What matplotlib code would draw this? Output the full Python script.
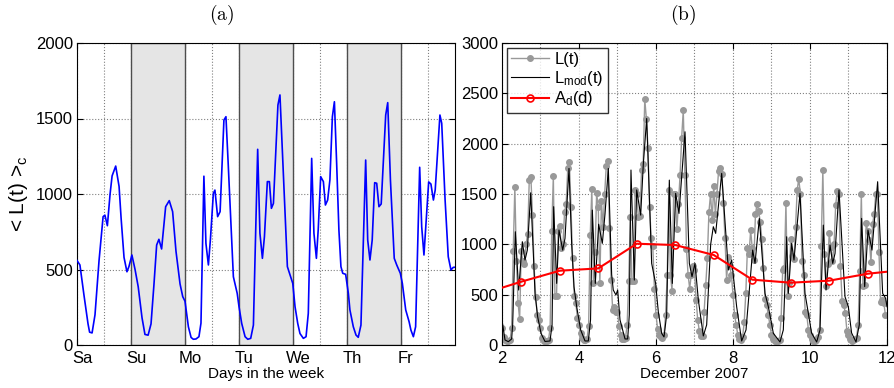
import matplotlib
matplotlib.use("Agg")
import matplotlib.pyplot as plt
import matplotlib.transforms as mtransforms
import numpy as np

plt.rcParams['font.family'] = ['Liberation Sans', 'DejaVu Sans']
plt.rcParams['mathtext.fontset'] = 'cm'
plt.rcParams['mathtext.default'] = 'regular'

# ---- panel (a): average weekly profile, vertices (hour, load)
week_hours = [0, 1.3, 3.1, 4.9, 5.6, 6.7, 8, 9.8, 11.6, 12.4, 13.5, 14.7, 15.6, 17.2, 18.7, 19.6, 20.9, 22.2, 23.1, 24.4,
              25.8, 27.2, 28.9, 30.2, 31.6, 32.9, 34.2, 35.4, 36.4, 37.6, 39.4, 41, 42.5, 44, 45.8, 47, 48,
              49.5, 50.7, 51.7, 52.9, 54.2, 55.1, 56.4, 57.3, 58.4, 59.3, 60.6, 61.3, 62.5, 63.6, 65.3, 66.2, 67.2, 68.8, 69.5, 71.2, 72,
              73.2, 74.7, 75.9, 77.2, 78.4, 80.3, 81.3, 82.4, 83.3, 84.6, 85.5, 86.4, 87.3, 89.3, 90.2, 93.5, 95.4, 95.9,
              96.9, 98.1, 99.1, 100.6, 101.8, 102.8, 104.3, 105.3, 106.4, 107.2, 108.3, 109.5, 110.4, 111.4, 112.4, 113.5, 114.4, 115.4, 116.4, 117.3, 118.1, 119.4,
              120.6, 121.3, 122.8, 124, 125, 126.2, 128.3, 129.2, 130.2, 131.2, 132.3, 133.2, 134.2, 135.2, 137.2, 138.1, 139.3, 141, 142.1, 143.7,
              144.6, 146.1, 147.6, 148.4, 149.5, 150.5, 152.3, 153.2, 154.2, 155.2, 156.3, 157.3, 158.4, 159.2, 161.3, 162.1, 163.6, 165, 166.2, 167.2, 168]
week_load = [560, 530, 330, 140, 85, 80, 200, 560, 850, 860, 790, 1000, 1120, 1185, 1050, 840, 580, 485, 520, 596,
             500, 386, 180, 70, 65, 140, 400, 662, 700, 636, 916, 956, 883, 620, 404, 320, 290,
             121, 50, 38, 40, 55, 145, 1118, 673, 530, 700, 1004, 1026, 850, 883, 1490, 1512, 1200, 673, 452, 342, 254,
             143, 55, 38, 44, 132, 1296, 740, 574, 717, 1082, 1082, 905, 938, 1589, 1656, 519, 430, 408,
             254, 143, 76, 44, 55, 210, 1236, 740, 574, 762, 1115, 1082, 927, 960, 1093, 1512, 1611, 1203, 762, 519, 475, 468,
             342, 232, 121, 66, 51, 132, 1225, 695, 563, 695, 1075, 1071, 916, 934, 1523, 1605, 1093, 574, 530, 475,
             408, 232, 154, 99, 55, 121, 1177, 783, 596, 828, 1080, 1066, 960, 1026, 1523, 1468, 960, 585, 497, 514, 515]
day_names = ['Sa', 'Su', 'Mo', 'Tu', 'We', 'Th', 'Fr']
shaded_days = [1, 3, 5]

# ---- panel (b): December 2007
# measured load, hourly, one list per day (2..11)
load_hourly = [
    [170, 80, 50, 40, 35, 45, 170, 930, 1570, 830, 420, 255, 930, 830, 800, 1000, 1100, 1640, 1670, 1290, 780, 480, 300, 250],
    [170, 70, 40, 35, 40, 50, 170, 1130, 1680, 490, 490, 1130, 1180, 960, 1000, 1320, 1400, 1760, 1820, 1370, 860, 490, 420, 270],
    [200, 120, 70, 50, 50, 60, 190, 1090, 1550, 620, 920, 1510, 1370, 620, 1430, 1170, 1500, 1780, 1830, 1160, 650, 350, 380, 330],
    [330, 190, 100, 60, 60, 70, 200, 640, 1270, 640, 640, 1540, 1500, 1270, 1280, 1740, 1800, 2440, 2250, 1960, 1370, 1060, 980, 560],
    [300, 160, 100, 80, 70, 100, 300, 700, 1540, 700, 540, 1500, 1500, 1150, 1400, 1690, 2060, 2330, 1690, 950, 700, 560, 700, 780],
    [750, 450, 250, 140, 90, 90, 330, 600, 860, 1320, 1500, 1240, 1580, 1300, 1500, 1730, 1760, 1700, 1410, 1060, 650, 870, 780, 700],
    [500, 300, 200, 100, 60, 50, 80, 230, 520, 960, 900, 1140, 960, 840, 1300, 1400, 1330, 1220, 1050, 760, 460, 400, 300, 200],
    [100, 60, 40, 40, 40, 50, 270, 750, 760, 1410, 490, 620, 1050, 880, 850, 1170, 1540, 1650, 1500, 830, 700, 330, 300, 150],
    [100, 60, 40, 40, 50, 80, 150, 980, 1740, 900, 590, 800, 1110, 970, 830, 1000, 1390, 1530, 1500, 780, 440, 400, 320, 140],
    [100, 60, 40, 50, 60, 70, 200, 740, 1500, 590, 600, 1210, 1130, 1040, 820, 1200, 1300, 1500, 1500, 920, 430, 450, 420, 300],
]
first_day = 2

# model, vertices (day, load)
mod_days = [2.0, 2.078, 2.165, 2.25, 2.277, 2.346, 2.433, 2.528, 2.597, 2.658, 2.745, 2.814, 2.857, 2.926, 3.013,
            3.117, 3.247, 3.30, 3.342, 3.42, 3.48, 3.576, 3.636, 3.74, 3.81, 3.87, 3.94, 4.043,
            4.156, 4.242, 4.30, 4.346, 4.424, 4.51, 4.606, 4.675, 4.762, 4.848, 4.89, 4.96, 5.004, 5.065,
            5.195, 5.264, 5.307, 5.35, 5.437, 5.498, 5.602, 5.671, 5.758, 5.887, 5.99, 6.06,
            6.147, 6.208, 6.277, 6.346, 6.424, 6.51, 6.597, 6.753, 6.866, 6.935, 7.013, 7.1,
            7.229, 7.316, 7.42, 7.489, 7.55, 7.706, 7.879, 7.965, 8.095,
            8.225, 8.338, 8.511, 8.572, 8.684, 8.831, 8.918, 9.048,
            9.221, 9.307, 9.394, 9.437, 9.524, 9.584, 9.74, 9.87, 9.957, 10.04,
            10.173, 10.26, 10.346, 10.416, 10.52, 10.59, 10.65, 10.753, 10.909, 10.996, 11.08,
            11.195, 11.28, 11.34, 11.42, 11.506, 11.61, 11.757, 11.887, 11.965, 12.0]
mod_load = [248, 50, 33, 60, 200, 1125, 546, 1026, 844, 943, 1512, 910, 513, 281, 116,
            35, 40, 200, 1374, 612, 1142, 943, 1059, 1754, 1000, 580, 380, 150,
            40, 40, 250, 1340, 612, 1200, 1010, 1300, 1754, 700, 546, 497, 546, 250,
            60, 60, 300, 1738, 645, 1540, 1290, 1800, 2250, 811, 612, 330,
            116, 80, 300, 1638, 612, 1506, 1307, 2118, 811, 679, 811, 447,
            90, 200, 1000, 1175, 1109, 1705, 745, 845, 380,
            40, 150, 943, 811, 1258, 513, 380, 116,
            30, 150, 1075, 513, 1010, 844, 1506, 513, 314, 120,
            30, 150, 1191, 546, 993, 811, 910, 1540, 480, 380, 120,
            30, 200, 1258, 580, 1142, 943, 1622, 513, 463, 380]

# daily average
avg_days = [2.0, 2.5, 3.5, 4.5, 5.5, 6.5, 7.5, 8.5, 9.5, 10.5, 11.5, 12.0]
avg_load = [569, 629, 738, 761, 1006, 993, 894, 649, 619, 639, 708, 728]

fig = plt.figure(figsize=(8.95, 3.88), dpi=100)

# ---------- (a)
ax1 = fig.add_axes([77 / 895, 43 / 388, 378 / 895, 302 / 388])
ax1.set_axisbelow(True)
for d in shaded_days:
    ax1.axvspan(d, d + 1, facecolor='#e5e5e5', edgecolor='#4d4d4d', lw=1.0, zorder=1)
ax1.plot(np.array(week_hours) / 24.0, week_load, color='#0000ff', lw=1.2, zorder=3)
ax1.set_xlim(0, 7)
ax1.set_ylim(0, 2000)
ax1.set_xticks(range(7))
ax1.set_xticks(np.arange(0.5, 7, 1.0), minor=True)
ax1.set_xticklabels(day_names)
ax1.set_yticks(range(0, 2001, 500))
ax1.grid(True, which='both', axis='x', linestyle=':', color='#808080', lw=0.8)
ax1.grid(True, which='major', axis='y', linestyle=':', color='#808080', lw=0.8)
ax1.set_xlabel('Days in the week', fontsize=11, labelpad=1)
ax1.set_ylabel(r'< L(t) >$_c$', fontsize=15, labelpad=4)
ax1.tick_params(direction='in', labelsize=12, length=4, top=True, right=True)
ax1.tick_params(axis='x', pad=4)
ax1.tick_params(axis='y', pad=3)
ax1.tick_params(which='minor', direction='in', length=0)
# day names sit a little right of their ticks
shift = mtransforms.ScaledTranslation(5 / 100, 0, fig.dpi_scale_trans)
for lab in ax1.get_xticklabels():
    lab.set_transform(lab.get_transform() + shift)

# ---------- (b)
ax2 = fig.add_axes([502 / 895, 43 / 388, 385 / 895, 302 / 388])
ax2.set_axisbelow(True)
t_load = [first_day + i + h / 24.0 for i in range(len(load_hourly)) for h in range(24)]
v_load = [v for day in load_hourly for v in day]
ax2.plot(t_load, v_load, color='#999999', lw=1.0, marker='o', ms=4, mec='#999999', mfc='#999999',
         label='L(t)', zorder=2)
ax2.plot(mod_days, mod_load, color='black', lw=0.8, label=r'L$_{mod}$(t)', zorder=3)
ax2.plot(avg_days, avg_load, color='red', lw=1.5, marker='o', ms=5, mfc='none', mec='red', mew=1.2,
         markevery=list(range(1, len(avg_days) - 1)), label=r'A$_d$(d)', zorder=4)
ax2.set_xlim(2, 12)
ax2.set_ylim(0, 3000)
ax2.set_xticks(range(2, 13, 2))
ax2.set_xticks(range(3, 12, 2), minor=True)
ax2.set_yticks(range(0, 3001, 500))
ax2.grid(True, which='both', axis='x', linestyle=':', color='#808080', lw=0.8)
ax2.grid(True, which='major', axis='y', linestyle=':', color='#808080', lw=0.8)
ax2.set_xlabel('December 2007', fontsize=11, labelpad=1)
ax2.tick_params(direction='in', labelsize=12, length=4, top=True, right=True)
ax2.tick_params(axis='x', pad=4)
ax2.tick_params(axis='y', pad=3)
ax2.tick_params(which='minor', direction='in', length=0)
leg = ax2.legend(loc='upper left', fontsize=12, frameon=True, fancybox=False, edgecolor='black',
                 handlelength=2.3, handletextpad=0.3, borderpad=0.25, labelspacing=0.1,
                 borderaxespad=0.3)
leg.get_frame().set_linewidth(1.0)

fig.text(222 / 895, 1 - 15 / 388, r'$\mathrm{(a)}$', ha='center', va='center', fontsize=14)
fig.text(683 / 895, 1 - 15 / 388, r'$\mathrm{(b)}$', ha='center', va='center', fontsize=14)

fig.savefig('out.png', dpi=100)
